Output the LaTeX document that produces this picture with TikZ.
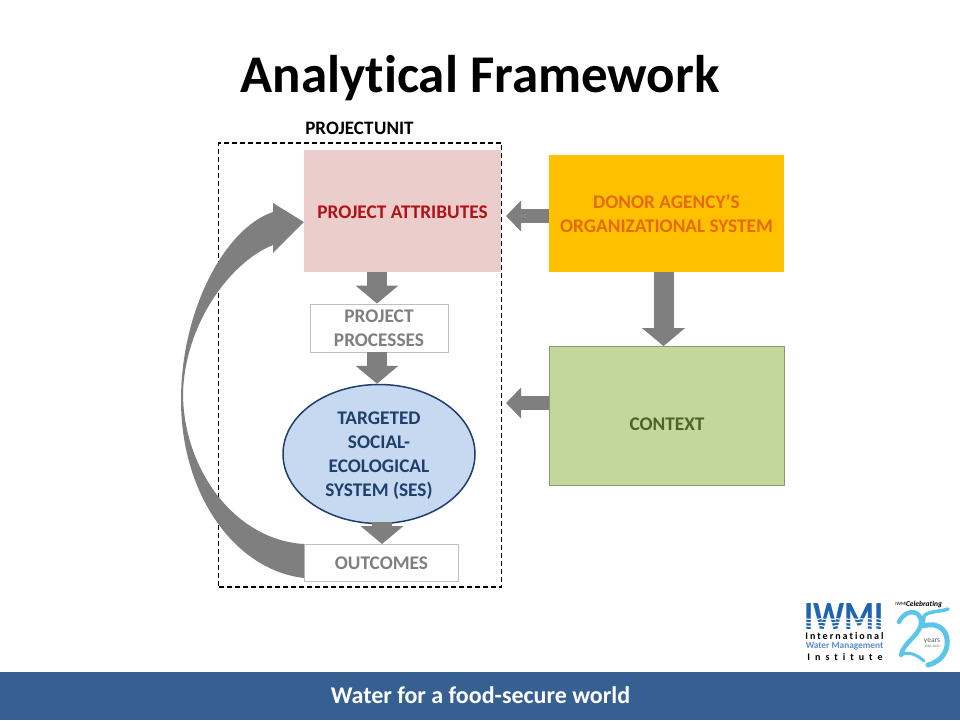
\documentclass[tikz,border=0pt]{standalone}
\usepackage{fontspec}
\setmainfont{Carlito}[RawFeature=-liga]
\usetikzlibrary{arrows.meta,positioning,shapes.geometric}
\definecolor{barblue}{HTML}{366092}
\definecolor{arrowgray}{HTML}{7F7F7F}
\definecolor{attrfill}{HTML}{E8C6C4}
\definecolor{attrtext}{HTML}{B01218}
\definecolor{donorfill}{HTML}{FFC000}
\definecolor{donortext}{HTML}{E36C0A}
\definecolor{contextfill}{HTML}{C3D69B}
\definecolor{contextline}{HTML}{8A9C6E}
\definecolor{contexttext}{HTML}{4F6228}
\definecolor{sesfill}{HTML}{C6D9F1}
\definecolor{sesline}{HTML}{1F3F6E}
\definecolor{graytext}{HTML}{7F7F7F}
\definecolor{boxline}{HTML}{BFBFBF}
\definecolor{iwmiblue}{HTML}{1F64B0}
\definecolor{waterblue}{HTML}{5B8BCB}
\definecolor{swirl}{HTML}{5CC6EA}
\tikzset{
  x=1pt,y=-1pt,
  label/.style={font=\bfseries\fontsize{19.3}{24}\selectfont,align=center,inner sep=0pt},
  whitebox/.style={label,draw=boxline,line width=1pt,fill=white,text=graytext},
  bigarrow/.style={draw=arrowgray,line width=20pt,-{Triangle[length=18pt,width=42pt]}},
  smallarrow/.style={draw=arrowgray,line width=14pt,-{Triangle[length=15pt,width=30pt]}},
  pagetext/.style={inner sep=0pt,font=\bfseries},
  swirlline/.style={draw=swirl,line cap=round,line join=round}
}
\begin{document}
\begin{tikzpicture}
  \useasboundingbox (0,0) rectangle (960,720);
  \fill[white] (0,0) rectangle (960,720);
  \fill[barblue] (0,672) rectangle (960,720);
  \node[pagetext,text=white,font=\bfseries\fontsize{24}{28}\selectfont] (motto) at (480.5,695) {Water for a food-secure world};
  \node[pagetext,font=\bfseries\fontsize{53}{60}\selectfont] (title) at (480,78.5) {Analytical Framework};

  % the project unit
  \node[draw,dash pattern=on 5pt off 3pt,line width=1.1pt,minimum width=283pt,minimum height=444pt,inner sep=0pt] (unit) at (360,365) {};
  \node[pagetext,font=\bfseries\fontsize{19}{20}\selectfont] (unitname) at (359.5,128) {PROJECT\hspace{.04em}UNIT};
  \node[label,fill=attrfill,fill opacity=.85,text opacity=1,text=attrtext,minimum width=197pt,minimum height=122pt] (attr) at (402.5,211) {\rule{0pt}{15.5pt}PROJECT ATTRIBUTES};
  \node[whitebox,minimum width=138pt,minimum height=48pt] (proc) at (379,328) {PROJECT\\PROCESSES};
  \node[label,ellipse,draw=sesline,line width=1.5pt,fill=sesfill,text=sesline,minimum width=192pt,minimum height=139pt] (ses) at (379,454) {\rule{0pt}{16.5pt}TARGETED\\SOCIAL-\\ECOLOGICAL\\SYSTEM (SES)};
  \node[whitebox,minimum width=154pt,minimum height=37pt] (outc) at (381.5,563) {OUTCOMES};

  % outside the unit
  \node[label,fill=donorfill,text=donortext,minimum width=235pt,minimum height=117pt] (donor) at (666.5,213.5) {DONOR AGENCY'S\\ORGANIZATIONAL SYSTEM};
  \node[label,draw=contextline,line width=.8pt,fill=contextfill,text=contexttext,minimum width=235pt,minimum height=139pt] (context) at (667,416) {\rule{0pt}{28.5pt}CONTEXT};

  \draw[bigarrow] (377,272) -- (proc.north -| 377,0);
  \draw[bigarrow] (377,352) -- (ses.north -| 377,0);
  \draw[bigarrow] (382,522) -- (outc.north -| 382,0);
  \draw[bigarrow] ([xshift=-3pt]donor.south) -- ([xshift=-3pt]donor.south |- context.north);
  \draw[smallarrow] (donor.west |- 0,216) -- (506,216);
  \draw[smallarrow] (context.west |- 0,403) -- (506,403);

  % the long way back
  \fill[arrowgray] ([yshift=4pt]outc.south west) .. controls (235,570) and (181,495) .. (181,400)
    .. controls (181,310) and (225,228) .. (273,212) -- (273,203)
    -- ([yshift=-11pt]attr.west) -- (273,253) -- (273,245)
    .. controls (230,262) and (184,325) .. (183,395)
    .. controls (184,470) and (235,540) .. (outc.north west) -- cycle;

  % the two logos
  \node[pagetext,text=iwmiblue,xscale=.86,font=\bfseries\fontsize{40}{40}\selectfont] (iwmi) at (844,616.5) {IWMI};
  \foreach \ypos in {619,622.5,626,629.5}
    \draw[white,line width=1.1pt] (803,\ypos) \foreach \xpos in {803,811,...,883} {.. controls (\xpos+2,\ypos-1.5) and (\xpos+6,\ypos+1.5) .. (\xpos+8,\ypos)};
  \node[pagetext,font=\bfseries\fontsize{10}{10}\selectfont\addfontfeature{LetterSpace=20}] (intl) at (844.5,636) {International};
  \node[pagetext,text=waterblue,font=\bfseries\fontsize{9.3}{10}\selectfont] (water) at (844.5,646) {Water Management};
  \node[pagetext,font=\bfseries\fontsize{10}{10}\selectfont\addfontfeature{LetterSpace=50}] (inst) at (845,657) {Institute};
  \node[pagetext,font=\fontsize{5}{6}\selectfont] (celeb1) at (901,604) {IWMI};
  \node[pagetext,font=\bfseries\itshape\fontsize{7.5}{8}\selectfont] (celeb2) at (924,604) {Celebrating};
  \draw[swirlline,line width=4.5pt] (899,622) .. controls (903,612) and (918,607) .. (921,620)
    .. controls (923,634) and (903,642) .. (901,655);
  \draw[swirlline,line width=3pt] (901,655) .. controls (908,651) and (916,654) .. (924,661);
  \draw[swirlline,line width=3.5pt] (948,609) .. controls (940,612) and (928,611) .. (924,616) -- (923,626);
  \draw[swirlline,line width=5pt] (923,626) .. controls (940,621) and (949,632) .. (947,646)
    .. controls (945,657) and (936,663) .. (928,665);
  \node[pagetext,text=black!65,font=\fontsize{7.5}{8}\selectfont] (years) at (932,641) {years};
  \node[pagetext,text=black!60,font=\fontsize{3.5}{4}\selectfont] (span) at (932,646) {1985-2010};
\end{tikzpicture}
\end{document}
